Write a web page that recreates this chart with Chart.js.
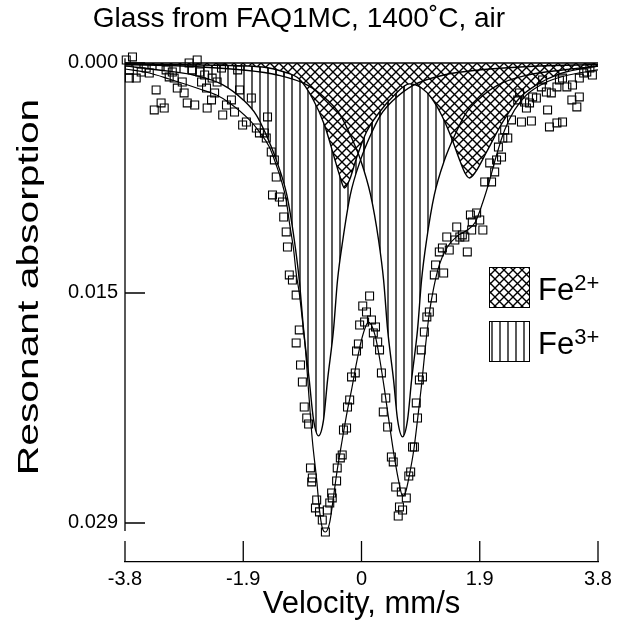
<!DOCTYPE html>
<html>
<head>
<meta charset="utf-8">
<script src="https://cdn.jsdelivr.net/npm/chart.js@4.4.1/dist/chart.umd.min.js"></script>
<style>
    html, body { margin: 0; padding: 0; background: #fff; }
    #wrap { width: 617px; height: 625px; }
</style>
</head>
<body>
<div id="wrap"><canvas id="spectrum" width="617" height="625"></canvas></div>
<script>
// Achsen
const xTicks = [-3.8, -1.9, 0, 1.9, 3.8];
const xTickLabels = ['-3.8', '-1.9', '0', '1.9', '3.8'];
const yTicks = [0, 0.0145, 0.029];
const yTickLabels = ['0.000', '0.015', '0.029'];

// Messpunkte (Geschwindigkeit, Absorption)
const dataV = [
    -3.78, -3.73, -3.68, -3.73, -3.62, -3.54, -3.46, -3.41, -3.33, -3.30,
    -3.22, -3.17, -3.14, -3.09, -3.04, -3.01, -2.96, -2.88, -2.85, -2.80,
    -2.77, -2.72, -2.68, -2.64, -2.60, -2.57, -2.52, -2.49, -2.48, -2.41,
    -2.40, -2.36, -2.32, -2.25, -2.23, -2.17, -2.09, -2.04, -1.99, -1.96,
    -1.91, -1.85, -1.77, -1.69, -1.64, -1.56, -1.53, -1.51, -1.45, -1.43,
    -1.40, -1.37, -1.32, -1.27, -1.25, -1.21, -1.19, -1.16, -1.11, -1.05,
    -1.05, -1.00, -0.98, -0.95, -0.92, -0.88, -0.85, -0.82, -0.80, -0.79,
    -0.74, -0.72, -0.675, -0.63, -0.58, -0.55, -0.51, -0.48, -0.47, -0.40,
    -0.39, -0.34, -0.31, -0.29, -0.24, -0.225, -0.19, -0.16, -0.10, -0.08,
    -0.05, -0.03, 0.02, 0.05, 0.08, 0.13, 0.16, 0.19, 0.225, 0.26,
    0.29, 0.32, 0.35, 0.39, 0.42, 0.48, 0.51, 0.55, 0.59, 0.61,
    0.64, 0.66, 0.72, 0.76, 0.79, 0.82, 0.85, 0.88, 0.90, 0.93,
    0.96, 0.98, 1.01, 1.05, 1.09, 1.14, 1.17, 1.19, 1.25, 1.30,
    1.32, 1.37, 1.41, 1.50, 1.53, 1.58, 1.62, 1.66, 1.70, 1.75,
    1.77, 1.78, 1.85, 1.90, 1.95, 1.98, 2.06, 2.09, 2.14, 2.17,
    2.20, 2.25, 2.27, 2.30, 2.35, 2.41, 2.51, 2.54, 2.57, 2.62,
    2.65, 2.70, 2.73, 2.75, 2.81, 2.89, 2.91, 2.97, 2.99, 3.02,
    3.05, 3.14, 3.14, 3.18, 3.23, 3.23, 3.30, 3.38, 3.39, 3.46,
    3.50, 3.50, 3.57, 3.62, 3.67, 3.71
];
const dataA = [
    -0.00019, 0.00044, -0.00038, 0.00095, 0.00095, 0.00057, 0.00032, 0.00063, 0.00296, 0.0017,
    0.00252, 0.00284, 0.00044, 0.00088, 0.00057, 0.00095, 0.00158, 0.0012, 0.00189, 0.00252,
    0, 0.00044, 0.00265, -0.00019, 0.00057, 0.0012, 0.00076, 0.00158, 0.00284, 0.00233,
    0.00095, 0.00189, 0.0012, 0.00032, 0.00328, 0.00265, 0.00233, 0.00309, 0.00044, 0.0017,
    0.00391, 0.00372, 0.00221, 0.0041, 0.00441, 0.00441, 0.00473, 0.0034, 0.00561, 0.00832,
    0.00611, 0.00719, 0.00845, 0.00876, 0.00971, 0.01065, 0.0116, 0.01336, 0.01368, 0.01463,
    0.01765, 0.01683, 0.01904, 0.02011, 0.02169, 0.02238, 0.02276, 0.02553, 0.02641, 0.02616,
    0.02805, 0.02755, 0.0283, 0.02881, 0.02957, 0.02818, 0.02774, 0.02711, 0.02742, 0.02635,
    0.02553, 0.0249, 0.02471, 0.02314, 0.02301, 0.02169, 0.02124, 0.01979, 0.01954, 0.01816,
    0.01771, 0.01652, 0.01532, 0.01633, 0.0157, 0.01469, 0.0162, 0.01702, 0.01664, 0.01759,
    0.01809, 0.01954, 0.022, 0.02112, 0.02295, 0.02484, 0.02515, 0.02673, 0.02856, 0.02799,
    0.02704, 0.02818, 0.02742, 0.02604, 0.02578, 0.02421, 0.02421, 0.02143, 0.02238, 0.01998,
    0.01809, 0.01979, 0.01696, 0.01601, 0.0157, 0.01481, 0.01336, 0.01273, 0.01191, 0.01166,
    0.01324, 0.01097, 0.01179, 0.01116, 0.01034, 0.01097, 0.01084, 0.01097, 0.01191, 0.00958,
    0.01053, 0.01002, 0.00946, 0.0099, 0.01053, 0.0075, 0.0063, 0.0075, 0.00687, 0.00611,
    0.0053, 0.00593, 0.00473, 0.00422, 0.00473, 0.00359, 0.00233, 0.00189, 0.00372, 0.00246,
    0.00284, 0.00252, 0.00366, 0.00214, 0.00221, 0.00151, 0.00107, 0.00183, 0.00296, 0.00403,
    0.00189, 0.00378, 0.00151, 0.00107, 0.00372, 0.00095, 0.00151, 0.00233, 0.00139, 0.00277,
    0.00214, 0.00095, 0.00063, 0.00057, 0.00032, 0.00076
];

// Gesamtfit
const fitV = [
    -3.8, -3.41, -3.09, -2.60, -2.33, -2.12, -1.80, -1.64, -1.48, -1.37,
    -1.29, -1.21, -1.16, -1.09, -1.05, -1.00, -0.95, -0.90, -0.84, -0.79,
    -0.72, -0.675, -0.63, -0.58, -0.51, -0.45, -0.39, -0.31, -0.225, -0.16,
    -0.08, 0, 0.064, 0.11, 0.16, 0.225, 0.29, 0.37, 0.45, 0.53,
    0.61, 0.66, 0.71, 0.77, 0.84, 0.90, 0.965, 1.03, 1.09, 1.16,
    1.25, 1.38, 1.54, 1.70, 1.83, 1.945, 2.06, 2.17, 2.30, 2.46,
    2.65, 2.94, 3.26, 3.8
];
const fitA = [
    0.00038, 0.00063, 0.00101, 0.00164, 0.00202, 0.00252, 0.00359, 0.00435, 0.0053, 0.00643,
    0.00738, 0.00864, 0.01002, 0.01179, 0.01324, 0.0145, 0.0162, 0.01809, 0.02124, 0.02377,
    0.02629, 0.02818, 0.02931, 0.02957, 0.02894, 0.02736, 0.02566, 0.02377, 0.02187, 0.02061,
    0.01891, 0.01746, 0.01664, 0.01633, 0.01652, 0.01727, 0.0186, 0.02061, 0.02282, 0.0249,
    0.0266, 0.0273, 0.02704, 0.02597, 0.0244, 0.0225, 0.0203, 0.01778, 0.01576, 0.01418,
    0.01273, 0.0116, 0.01091, 0.01053, 0.01002, 0.00883, 0.00738, 0.0058, 0.00422, 0.00296,
    0.00202, 0.00126, 0.00082, 0.00044
];

// Fe3+ Dublett, linke und rechte Linie
const fe3aV = [
    -3.8, -3.26, -2.70, -2.22, -1.90, -1.69, -1.53, -1.37, -1.20, -1.08,
    -1.00, -0.93, -0.84, -0.77, -0.69, -0.61, -0.545, -0.45, -0.385, -0.30,
    -0.18, -0.015, 0.146, 0.307, 0.516, 0.837, 1.32, 1.88, 2.85, 3.8
];
const fe3aA = [
    0.00018, 0.00044, 0.00076, 0.00139, 0.00233, 0.00328, 0.00454, 0.00611, 0.00832, 0.01116,
    0.01368, 0.01683, 0.01998, 0.0225, 0.02351, 0.0225, 0.01998, 0.01683, 0.01368, 0.01116,
    0.00832, 0.00611, 0.00454, 0.00328, 0.00233, 0.00139, 0.00076, 0.00044, 0.00019, 0.0001
];
const fe3bV = [
    -3.8, -2.88, -1.91, -1.35, -0.87, -0.55, -0.34, -0.18, -0.015, 0.146,
    0.274, 0.355, 0.42, 0.515, 0.58, 0.66, 0.74, 0.805, 0.90, 0.965,
    1.046, 1.17, 1.335, 1.50, 1.66, 1.87, 2.19, 2.67, 3.23, 3.8
];
const fe3bA = [
    0.0001, 0.00019, 0.00044, 0.00076, 0.00139, 0.00233, 0.00328, 0.00454, 0.00611, 0.00832,
    0.01116, 0.01368, 0.01683, 0.01998, 0.0225, 0.02357, 0.0225, 0.01998, 0.01683, 0.01368,
    0.01116, 0.00832, 0.00611, 0.00454, 0.00328, 0.00233, 0.00139, 0.00076, 0.00044, 0.0002
];

// Fe2+ Dublett
const fe2V = [
    -3.8, -2.60, -1.59, -1.24, -1.00, -0.79, -0.595, -0.435, -0.354, -0.273,
    -0.193, -0.08, 0.08, 0.29, 0.53, 0.77, 0.965, 1.125, 1.286, 1.447,
    1.576, 1.672, 1.736, 1.833, 2.01, 2.27, 2.54, 2.81, 3.18, 3.50, 3.8
];
const fe2A = [
    0.00006, 0.00013, 0.00025, 0.00057, 0.00101, 0.00221, 0.00391, 0.00599, 0.00706, 0.00788,
    0.00738, 0.00599, 0.00435, 0.00309, 0.00202, 0.00132, 0.00158, 0.00221, 0.00328, 0.00473,
    0.00611, 0.007, 0.00725, 0.00687, 0.00561, 0.00372, 0.00221, 0.00139, 0.00069, 0.00038, 0.00019
];

// Nulllinie
const baseV = [-3.8, 3.8];
const baseA = [0, 0];

const yMin = -0.00044;
const yMax = 0.03146;
const FONT = '"Liberation Sans", Arial, Helvetica, sans-serif';

function pts(xs, ys) {
    return xs.map((v, i) => ({ x: v, y: ys[i] }));
}

// Schraffuren
function hatchVertical() {
    const c = document.createElement('canvas');
    c.width = 8; c.height = 8;
    const g = c.getContext('2d');
    g.strokeStyle = '#000';
    g.lineWidth = 1.3;
    g.beginPath();
    g.moveTo(4, 0); g.lineTo(4, 8);
    g.stroke();
    return g.createPattern(c, 'repeat');
}
function hatchCross() {
    const c = document.createElement('canvas');
    c.width = 9; c.height = 9;
    const g = c.getContext('2d');
    g.fillStyle = '#fff';
    g.fillRect(0, 0, 9, 9);
    g.strokeStyle = '#000';
    g.lineWidth = 1.4;
    g.beginPath();
    g.moveTo(-1, -1); g.lineTo(10, 10);
    g.moveTo(-1, 10); g.lineTo(10, -1);
    g.stroke();
    return g.createPattern(c, 'repeat');
}
const vertPattern = hatchVertical();
const crossPattern = hatchCross();

// Achsen, Ticks nach innen, Legende, y-Titel
const decorPlugin = {
    id: 'decor',
    afterDraw(chart) {
        const { ctx, chartArea, scales: { x, y } } = chart;
        ctx.save();
        ctx.strokeStyle = '#000';
        ctx.lineWidth = 1.3;

        ctx.beginPath();
        ctx.moveTo(chartArea.left, y.getPixelForValue(-0.0003));
        ctx.lineTo(chartArea.left, y.getPixelForValue(0.0295));
        y.ticks.forEach(t => {
            const py = y.getPixelForValue(t.value);
            ctx.moveTo(chartArea.left, py);
            ctx.lineTo(chartArea.left + 20, py);
        });
        x.ticks.forEach(t => {
            const px = x.getPixelForValue(t.value);
            ctx.moveTo(px, chartArea.bottom);
            ctx.lineTo(px, chartArea.bottom - 21);
        });
        ctx.stroke();

        // y-Titel
        ctx.save();
        ctx.translate(30, 287);
        ctx.rotate(-Math.PI / 2);
        ctx.scale(1.36, 1);
        ctx.fillStyle = '#000';
        ctx.font = '30px ' + FONT;
        ctx.textAlign = 'center';
        ctx.textBaseline = 'middle';
        ctx.fillText('Resonant absorption', 0, 0);
        ctx.restore();

        // Legende
        const items = [
            { pattern: crossPattern, sup: '2+', top: 267 },
            { pattern: vertPattern, sup: '3+', top: 321 }
        ];
        items.forEach(it => {
            ctx.fillStyle = '#fff';
            ctx.fillRect(489, it.top, 40, 40);
            ctx.fillStyle = it.pattern;
            ctx.fillRect(489, it.top, 40, 40);
            ctx.lineWidth = 1;
            ctx.strokeRect(489.5, it.top + 0.5, 40, 40);
            ctx.fillStyle = '#000';
            ctx.textAlign = 'left';
            ctx.textBaseline = 'alphabetic';
            ctx.font = '31px ' + FONT;
            ctx.fillText('Fe', 538, it.top + 33);
            const w = ctx.measureText('Fe').width;
            ctx.font = '22px ' + FONT;
            ctx.fillText(it.sup, 538 + w, it.top + 23);
        });
        ctx.restore();
    }
};

const ctx = document.getElementById('spectrum');
new Chart(ctx, {
    type: 'line',
    data: {
        datasets: [{
            label: 'Daten',
            data: pts(dataV, dataA),
            showLine: false,
            pointStyle: 'rect',
            pointRadius: 5.6,
            pointBorderWidth: 1.1,
            pointBorderColor: '#000',
            pointBackgroundColor: 'rgba(255,255,255,0)',
            clip: false,
            order: 0
        }, {
            label: 'Fit',
            data: pts(fitV, fitA),
            borderColor: '#000',
            borderWidth: 1.2,
            pointRadius: 0,
            cubicInterpolationMode: 'monotone',
            fill: false,
            order: 1
        }, {
            label: 'Null',
            data: pts(baseV, baseA),
            borderColor: '#000',
            borderWidth: 1.6,
            pointRadius: 0,
            fill: false,
            order: 2
        }, {
            label: 'Fe2+',
            data: pts(fe2V, fe2A),
            borderColor: '#000',
            borderWidth: 1.4,
            pointRadius: 0,
            cubicInterpolationMode: 'monotone',
            fill: 'origin',
            backgroundColor: crossPattern,
            order: 3
        }, {
            label: 'Fe3+ b',
            data: pts(fe3bV, fe3bA),
            borderColor: '#000',
            borderWidth: 1.4,
            pointRadius: 0,
            cubicInterpolationMode: 'monotone',
            fill: 'origin',
            backgroundColor: vertPattern,
            order: 4
        }, {
            label: 'Fe3+ a',
            data: pts(fe3aV, fe3aA),
            borderColor: '#000',
            borderWidth: 1.4,
            pointRadius: 0,
            cubicInterpolationMode: 'monotone',
            fill: 'origin',
            backgroundColor: vertPattern,
            order: 5
        }]
    },
    options: {
        responsive: false,
        animation: false,
        layout: { padding: { left: 0, right: 19, top: 0, bottom: 0 } },
        plugins: {
            legend: { display: false },
            tooltip: { enabled: false },
            filler: { drawTime: 'beforeDatasetsDraw' },
            title: {
                display: true,
                text: 'Glass from FAQ1MC, 1400\u02DAC, air',
                color: '#000',
                font: { family: FONT, size: 28, weight: 'normal' },
                padding: { top: 2, bottom: 20.4 }
            }
        },
        scales: {
            x: {
                type: 'linear',
                min: -3.8,
                max: 3.8,
                afterBuildTicks: axis => { axis.ticks = xTicks.map(v => ({ value: v })); },
                afterFit: axis => { axis.height = 63; },
                grid: { display: false, drawTicks: false },
                border: { display: true, color: '#000', width: 1.3 },
                ticks: {
                    color: '#000',
                    padding: 5,
                    maxRotation: 0,
                    font: { family: FONT, size: 20 },
                    callback: (v) => xTickLabels[xTicks.indexOf(v)]
                },
                title: {
                    display: true,
                    text: 'Velocity, mm/s',
                    color: '#000',
                    font: { family: FONT, size: 31 },
                    padding: { top: 0, bottom: 2 }
                }
            },
            y: {
                type: 'linear',
                reverse: true,
                min: yMin,
                max: yMax,
                afterBuildTicks: axis => { axis.ticks = yTicks.map(v => ({ value: v })); },
                afterFit: axis => { axis.width = 125; },
                grid: { display: false, drawTicks: false },
                border: { display: false },
                ticks: {
                    color: '#000',
                    padding: 7,
                    font: { family: FONT, size: 20 },
                    callback: (v) => yTickLabels[yTicks.indexOf(v)]
                }
            }
        }
    },
    plugins: [decorPlugin]
});
</script>
</body>
</html>
